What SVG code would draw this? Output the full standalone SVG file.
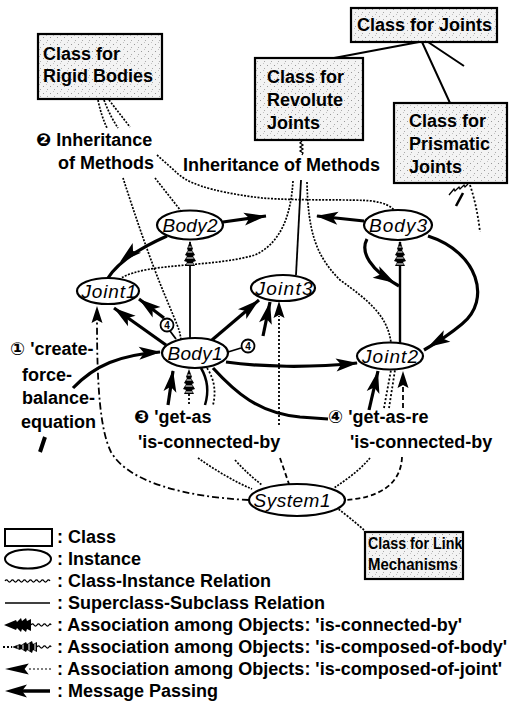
<svg xmlns="http://www.w3.org/2000/svg" width="525" height="706" viewBox="0 0 525 706">
<defs>
<style>
.t{font-family:"Liberation Sans",Arial,"DejaVu Sans",sans-serif;font-weight:bold;font-size:18px;fill:#000}
.n{font-family:"Liberation Sans",Arial,sans-serif;font-style:italic;font-size:19px;fill:#000;text-anchor:middle}
.box{fill:url(#stipple);stroke:#000;stroke-width:2.2}
.inst{fill:#fff;stroke:#000;stroke-width:2.2}
.sup{fill:none;stroke:#000;stroke-width:2}
.ci{fill:none;stroke:#000;stroke-width:1.7;stroke-dasharray:2 1.4}
.wav{fill:none;stroke:#000;stroke-width:1.3}
.thin{fill:none;stroke:#000;stroke-width:1.8}
.thick{fill:none;stroke:#000;stroke-width:3.2}
.dot{fill:none;stroke:#000;stroke-width:1.8;stroke-dasharray:2 2}
.dash{fill:none;stroke:#000;stroke-width:1.8;stroke-dasharray:5 3}
.dashdot{fill:none;stroke:#000;stroke-width:1.8;stroke-dasharray:7 3 2 3}
.num{fill:#fff;stroke:#000;stroke-width:1.8}
.numt{font-family:"Liberation Sans",Arial,sans-serif;font-weight:bold;font-size:10px;text-anchor:middle}
</style>
<pattern id="stipple" width="7" height="7" patternUnits="userSpaceOnUse">
<rect width="7" height="7" fill="#f3f3f3"/>
<rect x="1" y="2" width="1" height="1" fill="#999"/>
<rect x="5" y="5" width="1" height="1" fill="#aaa"/>
<rect x="4" y="0" width="1" height="1" fill="#c4c4c4"/>
</pattern>
<!-- arrowheads point along +x with the tip at the origin -->
<path id="ah-msg" d="M0,0 L-22,-6.5 L-17,0 L-22,6.5 Z" fill="#000"/>
<path id="ah-conn" d="M0,0 L-12,-5 L-13,-3 L-17,-7 L-18,-4 L-22,-7 L-23,-4 L-27,-6 L-27,6 L-23,4 L-22,7 L-18,4 L-17,7 L-13,3 L-12,5 Z" fill="#000"/>
<g id="ah-body">
<path d="M0,0 L-8,-3 L-9,-2 L-14,-5 L-15,-3 L-20,-6 L-21,-3 L-25,-5 L-25,5 L-21,3 L-20,6 L-15,3 L-14,5 L-9,2 L-8,3 Z" fill="#000"/>
<path d="M-6,-1.5 L-6,1.5 M-11,-2.5 L-11,2.5 M-17,-3.5 L-17,3.5 M-23,-3.5 L-23,3.5" stroke="#fff" stroke-width="1"/>
</g>
<path id="ah-joint" d="M0,0 L-17,-5.5 L-14,0 L-17,5.5 Z" fill="#000"/>
</defs>

<!-- relations -->
<g id="connectors">
<!-- superclass-subclass -->
<path class="sup" d="M419,42 L334,58 M422,42 L450,103 M428,42 L464,66"/>

<!-- class-instance: rigid bodies -->
<path class="ci" d="M98,100 Q101,115 107,128 M104,100 Q110,116 118,128 M109,100 L130,127"/>
<path class="ci" d="M123,178 C135,215 150,260 166,298 S179,330 181,339"/>
<path class="ci" d="M155,178 L181,211"/>
<path class="ci" d="M157,155 L176,172 C186,182 205,191 262,198 C300,201 355,199 372,201 C385,203 391,206 395,211"/>
<!-- class-instance: revolute joints -->
<path class="wav" d="M302,141 l-2,2 l3,2 l-3,2 l3,2 l-3,2 l3,2 l-1,2"/>
<path class="ci" d="M293,181 C291,215 281,243 255,255 C210,268 150,262 121,278"/>
<path class="thin" d="M301,180 L296,275"/>
<path class="ci" d="M307,182 C308,230 315,255 340,280 C368,300 388,316 391,343"/>
<!-- class-instance: prismatic joints -->
<path class="wav" d="M468,184 l-3,3 l-1,-2 l-4,4 l-1,-2 l-4,4 l-1,-2 l-5,6"/>
<path d="M463,193 L456,206" stroke="#000" stroke-width="2.6"/>
<path class="dot" d="M470,185 C475,200 478,215 480,232"/>
<!-- class-instance: link mechanisms -->
<path class="ci" d="M364,530 C355,522 345,514 337,508"/>

<!-- is-connected-by and message passing -->
<path class="thick" d="M167,236 C140,248 118,262 108,278"/>
<use href="#ah-msg" transform="translate(120,262) rotate(140)"/>
<path class="thick" d="M223,222 L266,216"/>
<use href="#ah-msg" transform="translate(266,216) rotate(-8)"/>
<path class="thick" d="M364,221 L317,216"/>
<use href="#ah-msg" transform="translate(316,216) rotate(186)"/>
<path class="thick" d="M367,239 C360,252 370,270 399,286"/>
<use href="#ah-msg" transform="translate(395,283) rotate(30)"/>
<path class="thick" d="M428,236 C478,252 492,300 462,324 C450,334 438,342 424,350"/>
<use href="#ah-msg" transform="translate(428,347) rotate(150)"/>
<path class="thick" d="M166,345 L114,308"/>
<use href="#ah-msg" transform="translate(114,308) rotate(216)"/>
<path class="thick" d="M164,318 L139,299"/>
<use href="#ah-msg" transform="translate(139,299) rotate(217)"/>
<path class="thick" d="M212,340 L259,300"/>
<use href="#ah-msg" transform="translate(259,300) rotate(-40)"/>
<path class="thick" d="M263,336 L270,302"/>
<use href="#ah-msg" transform="translate(270,302) rotate(-78)"/>
<path class="thick" d="M226,362 C260,367 310,368 357,363"/>
<use href="#ah-msg" transform="translate(358,363) rotate(-5)"/>
<path class="thick" d="M213,368 C235,392 258,413 300,417 L328,419"/>
<path class="thick" d="M73,388 C95,365 120,355 160,352"/>
<use href="#ah-msg" transform="translate(161,352) rotate(-3)"/>
<path class="thick" d="M369,410 L378,371"/>
<use href="#ah-msg" transform="translate(378,371) rotate(-77)"/>
<path class="thick" d="M168,405 L173,371"/>
<use href="#ah-msg" transform="translate(173,370) rotate(-82)"/>
<path d="M40,452 L45,437" stroke="#000" stroke-width="4"/>

<!-- message numbers at Body1 -->
<path class="thin" d="M170,331 L176,339 M241,348 L228,352"/>
<g><circle class="num" cx="167" cy="325" r="6.5"/><text class="numt" x="167" y="328.5">4</text></g>
<g><circle class="num" cx="248" cy="346" r="6.5"/><text class="numt" x="248" y="349.5">4</text></g>

<!-- is-composed-of-body -->
<path class="thin" d="M190,338 L190,242"/>
<use href="#ah-body" transform="translate(190,241) rotate(-90)"/>
<path d="M400,343 L400,242" fill="none" stroke="#000" stroke-width="2.4"/>
<use href="#ah-body" transform="translate(400,241) rotate(-90)"/>
<path class="dot" d="M189,404 L189,388"/>
<use href="#ah-body" transform="translate(189,369) rotate(-90)"/>
<path d="M201,368 C208,380 209,392 205,405" fill="none" stroke="#000" stroke-width="2.5"/>
<path class="dot" d="M207,368 C215,380 216,393 213,405"/>
<path class="dot" d="M384,408 L391,370 M389,408 L395,370"/>

<!-- is-composed-of-joint -->
<path class="dashdot" d="M249,500 C185,497 128,482 111,452 C100,430 97,385 97,322"/>
<use href="#ah-joint" transform="translate(97,306) rotate(-90)"/>
<path class="dot" d="M279,425 L279,316"/>
<use href="#ah-joint" transform="translate(279,301) rotate(-90)"/>
<path class="dash" d="M403,408 L403,385"/>
<use href="#ah-joint" transform="translate(403,371) rotate(-90)"/>

<!-- lines into System1 -->
<path class="ci" d="M198,458 C215,470 235,482 252,489"/>
<path class="ci" d="M235,460 C244,470 253,478 262,485"/>
<path class="dash" d="M280,458 L289,484"/>
<path class="ci" d="M370,458 C360,470 346,480 334,488"/>
<path class="dash" d="M402,457 C401,485 378,498 345,500"/>
</g>

<!-- classes -->
<g id="class-rigid-bodies">
<rect class="box" x="38" y="34" width="124" height="65"/>
<text class="t" x="43" y="60">Class for</text>
<text class="t" x="43" y="82">Rigid Bodies</text>
</g>
<g id="class-joints">
<rect class="box" x="351" y="8" width="146" height="34"/>
<text class="t" x="357" y="31">Class for Joints</text>
</g>
<g id="class-revolute-joints">
<rect class="box" x="255" y="58" width="108" height="82"/>
<text class="t" x="267" y="83">Class for</text>
<text class="t" x="267" y="106">Revolute</text>
<text class="t" x="267" y="129">Joints</text>
</g>
<g id="class-prismatic-joints">
<rect class="box" x="394" y="103" width="113" height="80"/>
<text class="t" x="409" y="127">Class for</text>
<text class="t" x="409" y="150">Prismatic</text>
<text class="t" x="409" y="173">Joints</text>
</g>
<g id="class-link-mechanisms">
<rect class="box" x="365" y="532" width="98" height="47"/>
<!-- narrow box: labels are horizontally condensed -->
<text class="t" transform="translate(368,549) scale(0.84,1)" style="font-size:17px">Class for Link</text>
<text class="t" transform="translate(368,570) scale(0.88,1)" style="font-size:17px">Mechanisms</text>
</g>

<!-- instances -->
<g id="body2"><ellipse class="inst" cx="190" cy="225" rx="33" ry="14.5"/><text class="n" x="190" y="232" textLength="55">Body2</text></g>
<g id="body3"><ellipse class="inst" cx="398" cy="225" rx="34" ry="15"/><text class="n" x="398" y="232" textLength="58">Body3</text></g>
<g id="joint1"><ellipse class="inst" cx="108" cy="291" rx="31" ry="13"/><text class="n" x="109" y="298" textLength="55">Joint1</text></g>
<g id="joint3"><ellipse class="inst" cx="283" cy="288" rx="32" ry="13"/><text class="n" x="284" y="295" textLength="57">Joint3</text></g>
<g id="body1"><ellipse class="inst" cx="195" cy="353" rx="33" ry="15"/><text class="n" x="195" y="360" textLength="55">Body1</text></g>
<g id="joint2"><ellipse class="inst" cx="390" cy="356" rx="33" ry="13.5"/><text class="n" x="390" y="363" textLength="56">Joint2</text></g>
<g id="system1"><ellipse class="inst" cx="297" cy="500" rx="48" ry="16"/><text class="n" x="292" y="507" textLength="77">System1</text></g>

<!-- annotations -->
<g id="labels">
<text class="t" x="36" y="146">❷ Inheritance</text>
<text class="t" x="58" y="169">of Methods</text>
<text class="t" x="183" y="171">Inheritance of Methods</text>
<text class="t" x="10" y="355">① 'create-</text>
<text class="t" x="22" y="381">force-</text>
<text class="t" x="22" y="404">balance-</text>
<text class="t" x="21" y="428">equation</text>
<text class="t" x="134" y="423">❸ 'get-as</text>
<text class="t" x="138" y="448">'is-connected-by</text>
<text class="t" x="328" y="423">④ 'get-as-re</text>
<text class="t" x="350" y="448">'is-connected-by</text>
</g>

<!-- legend -->
<g id="legend">
<rect x="5" y="529" width="47" height="17" fill="#fff" stroke="#000" stroke-width="2"/>
<ellipse cx="28" cy="559" rx="23" ry="9.5" fill="#fff" stroke="#000" stroke-width="2"/>
<path class="wav" d="M5,581 q1.5,-2.2 3,0 t3,0 t3,0 t3,0 t3,0 t3,0 t3,0 t3,0 t3,0 t3,0 t3,0 t3,0 t3,0 t3,0 t3,0"/>
<path d="M5,603 L50,603" stroke="#000" stroke-width="1.6"/>
<use href="#ah-conn" transform="translate(4,625) rotate(180)"/>
<path class="wav" d="M31,625 q1.5,-2.2 3,0 t3,0 t3,0 t3,0 t3,0 t3,0 t2,0"/>
<path class="dot" d="M3,647 L12,647"/>
<use href="#ah-body" transform="translate(12,647) rotate(180)"/>
<path class="wav" d="M37,647 q1.5,-2.2 3,0 t3,0 t3,0 t3,0 t2,0"/>
<use href="#ah-joint" transform="translate(5,669) scale(1.4,1) rotate(180)"/>
<path class="dot" d="M29,669 L52,669" style="stroke-width:1.2"/>
<use href="#ah-msg" transform="translate(5,691) rotate(180)"/>
<path d="M22,691 L50,691" stroke="#000" stroke-width="3.5"/>
<text class="t" x="57" y="543">: Class</text>
<text class="t" x="57" y="565">: Instance</text>
<text class="t" x="57" y="587">: Class-Instance Relation</text>
<text class="t" x="57" y="609">: Superclass-Subclass Relation</text>
<text class="t" x="57" y="631">: Association among Objects: 'is-connected-by'</text>
<text class="t" x="57" y="653">: Association among Objects: 'is-composed-of-body'</text>
<text class="t" x="57" y="675">: Association among Objects: 'is-composed-of-joint'</text>
<text class="t" x="57" y="697">: Message Passing</text>
</g>
</svg>
